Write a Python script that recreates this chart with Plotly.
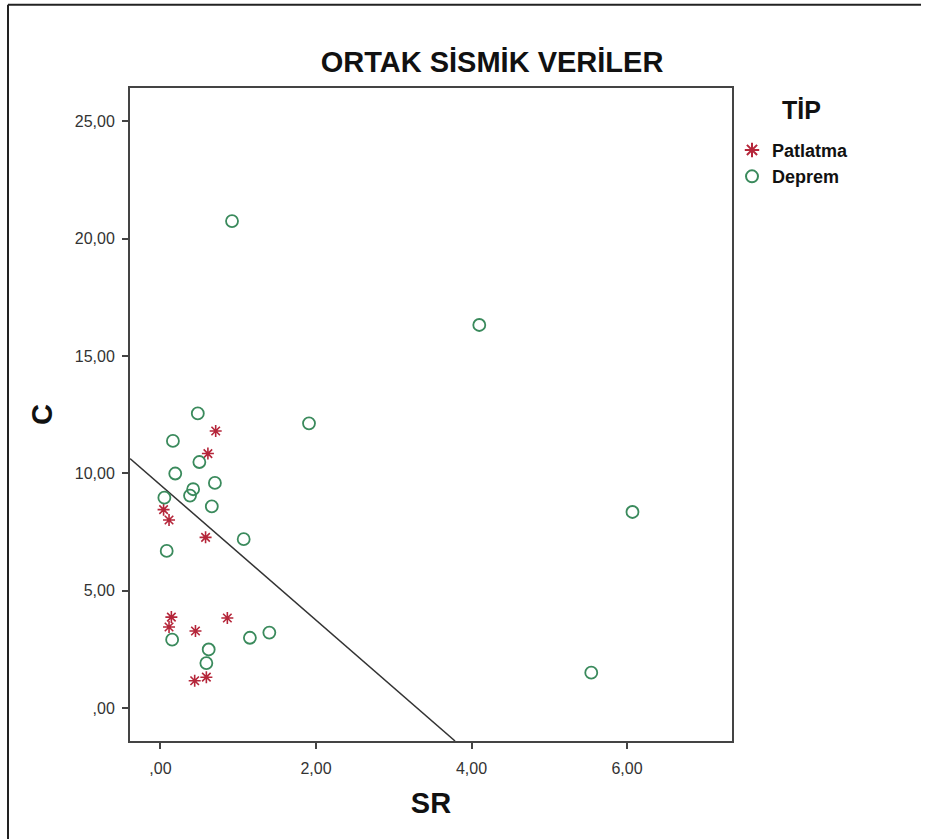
import plotly.graph_objects as go

# SR / C values per event type
patlatma_sr = [0.71, 0.61, 0.04, 0.11, 0.58, 0.14, 0.11, 0.45, 0.86, 0.44, 0.59]
patlatma_c = [11.80, 10.84, 8.45, 8.01, 7.27, 3.87, 3.45, 3.28, 3.83, 1.16, 1.31]

deprem_sr = [0.92, 4.10, 1.91, 0.48, 0.16, 0.19, 0.50, 0.70, 0.42, 0.38, 0.05,
             0.66, 6.07, 1.07, 0.08, 1.40, 1.15, 0.15, 0.62, 0.59, 5.54]
deprem_c = [20.75, 16.32, 12.13, 12.55, 11.38, 9.99, 10.48, 9.59, 9.32, 9.05, 8.96,
            8.59, 8.35, 7.19, 6.69, 3.21, 2.99, 2.91, 2.49, 1.91, 1.50]

# separating line C = intercept + slope * SR
line_intercept = 9.50
line_slope = -2.88

x_range = [-0.392, 7.35]
y_range = [-1.41, 26.42]

x_ticks = [0, 2, 4, 6]
x_ticktext = [",00", "2,00", "4,00", "6,00"]
y_ticks = [0, 5, 10, 15, 20, 25]
y_ticktext = [",00", "5,00", "10,00", "15,00", "20,00", "25,00"]

legend_heading = "TİP"

font = "Liberation Sans, Arial, sans-serif"

fig = go.Figure()

line_x = [x_range[0], (y_range[0] - line_intercept) / line_slope]
line_y = [line_intercept + line_slope * v for v in line_x]
fig.add_trace(go.Scatter(
    x=line_x, y=line_y, mode="lines",
    line=dict(color="#333333", width=1.5),
    showlegend=False, hoverinfo="skip",
))

fig.add_trace(go.Scatter(
    x=patlatma_sr, y=patlatma_c, mode="markers", name="Patlatma",
    legendgroup="p",
    marker=dict(symbol="asterisk-open", size=10, color="#b5263a",
                line=dict(color="#b5263a", width=1.6)),
))
fig.add_trace(go.Scatter(
    x=deprem_sr, y=deprem_c, mode="markers", name="Deprem",
    legendgroup="d",
    marker=dict(symbol="circle-open", size=12, color="#3a8a5c",
                line=dict(color="#3a8a5c", width=1.8)),
))

axis_common = dict(
    showgrid=False, zeroline=False, showline=True, mirror=True,
    linecolor="#444444", linewidth=2, ticks="outside", ticklen=6,
    tickwidth=2, tickcolor="#444444",
    tickfont=dict(family=font, size=16, color="#333333"),
)

fig.update_layout(
    width=927, height=839,
    margin=dict(l=130, r=195, t=88, b=98),
    paper_bgcolor="white", plot_bgcolor="white",
    title=dict(text="<b>ORTAK SİSMİK VERİLER</b>", x=492 / 927, xanchor="center",
               y=1 - 62 / 839, yanchor="middle",
               font=dict(family=font, size=29, color="#111111")),
    xaxis=dict(range=x_range, tickvals=x_ticks, ticktext=x_ticktext,
               ticklabelstandoff=6,
               title=dict(text="<b>SR</b>", standoff=16,
                          font=dict(family=font, size=29, color="#111111")),
               **axis_common),
    yaxis=dict(range=y_range, tickvals=y_ticks, ticktext=y_ticktext,
               ticklabelstandoff=4,
               title=dict(text="<b>C</b>", standoff=14,
                          font=dict(family=font, size=29, color="#111111")),
               **axis_common),
    legend=dict(
        x=1.0, xanchor="left", y=0.933, yanchor="top",
        font=dict(family=font, size=18, color="#111111", weight="bold"),
        itemsizing="constant", tracegroupgap=0, traceorder="grouped",
        bgcolor="rgba(0,0,0,0)",
    ),
    annotations=[
        dict(text="<b>%s</b>" % legend_heading, xref="paper", yref="paper",
             x=1 + 69 / 602, y=1 - 22 / 652, xanchor="center", yanchor="middle",
             showarrow=False, font=dict(family=font, size=25, color="#111111")),
    ],
    shapes=[
        dict(type="line", xref="paper", yref="paper", x0=-122 / 602, x1=791 / 602,
             y0=1 + 83 / 652, y1=1 + 83 / 652, line=dict(color="#222222", width=2)),
        dict(type="line", xref="paper", yref="paper", x0=-122 / 602, x1=-122 / 602,
             y0=1 + 83 / 652, y1=-1, line=dict(color="#222222", width=2)),
    ],
)

fig.write_html("out.html")
